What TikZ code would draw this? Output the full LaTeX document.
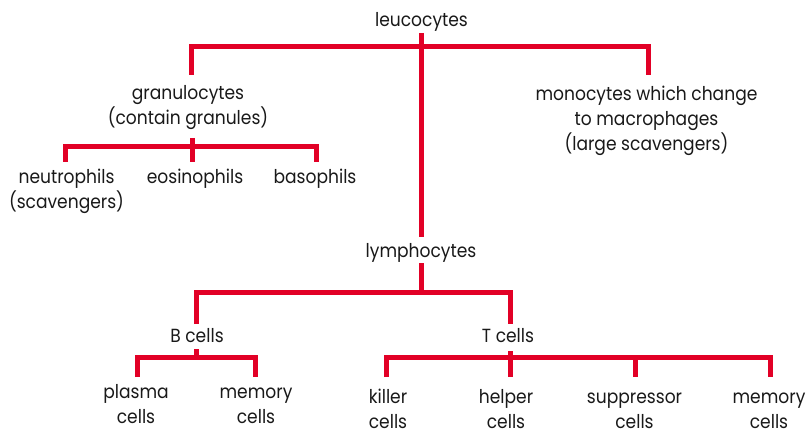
\documentclass[tikz,border=0pt]{standalone}
\usepackage{fontspec}
\newfontfamily\lbf[FakeStretch=0.9]{Poppins}
\definecolor{cred}{RGB}{226,0,38}
\begin{document}
\begin{tikzpicture}[x=1pt,y=-1pt,
  bar/.style={draw=cred,line width=5pt},
  lbl/.style={font=\lbf\fontsize{19}{25}\selectfont,align=center,inner sep=0pt,anchor=base,text=black!90}]
\useasboundingbox (0,0) rectangle (806,433);
% labels (anchor = baseline of the last line)
\node[lbl] (leu) at (421.5,27) {leucocytes};
\node[lbl] (gran) at (188,125) {granulocytes\\(contain granules)};
\node[lbl] (mono) at (646.5,150) {monocytes which change\\to macrophages\\(large scavengers)};
\node[lbl] (neut) at (66.5,208) {neutrophils\\(scavengers)};
\node[lbl] (eos) at (195,183) {eosinophils};
\node[lbl] (baso) at (315,183) {basophils};
\node[lbl] (lym) at (421,257) {lymphocytes};
\node[lbl] (bc) at (197,342) {B cells};
\node[lbl] (tc) at (508,342) {T cells};
\node[lbl] (plas) at (136,423) {plasma\\cells};
\node[lbl] (bmem) at (256,423) {memory\\cells};
\node[lbl] (kill) at (388,428) {killer\\cells};
\node[lbl] (help) at (506,428) {helper\\cells};
\node[lbl] (supp) at (634.5,428) {suppressor\\cells};
\node[lbl] (tmem) at (769,428) {memory\\cells};
% connector end points
\coordinate (leuB) at (421.5,33);
\coordinate (lymT) at (421.5,237);
\coordinate (leuJ) at (421.5,47);
\coordinate (granT) at (191,75);
\coordinate (monoT) at (648,75);
\coordinate (granB) at (192.5,138);
\coordinate (granJ) at (192.5,146.5);
\coordinate (neutT) at (65.5,162);
\coordinate (eosT) at (192.5,162);
\coordinate (basoT) at (316,162);
\coordinate (lymB) at (421.5,263);
\coordinate (lymJ) at (421.5,292.5);
\coordinate (bcT) at (196,324);
\coordinate (tcT) at (510.5,324);
\coordinate (bcB) at (196.5,349);
\coordinate (bcJ) at (196.5,357.5);
\coordinate (plasT) at (137.5,377);
\coordinate (bmemT) at (255,377);
\coordinate (tcB) at (510.5,351);
\coordinate (killT) at (386,377);
\coordinate (helpT) at (510.5,377);
\coordinate (suppT) at (635.5,377);
\coordinate (tmemT) at (770,377);
% connectors
\draw[bar] (leuB) -- (lymT);
\draw[bar] (granT) |- (leuJ) -| (monoT);
\draw[bar] (granB) -- (eosT);
\draw[bar] (neutT) |- (granJ) -| (basoT);
\draw[bar] (lymB) -- (lymJ);
\draw[bar] (bcT) |- (lymJ) -| (tcT);
\draw[bar] (bcB) -- (bcJ);
\draw[bar] (plasT) |- (bcJ) -| (bmemT);
\draw[bar] (tcB) -- (helpT);
\draw[bar] (killT) |- (helpT |- bcJ) -| (tmemT);
\draw[bar] (suppT |- bcJ) -- (suppT);
\end{tikzpicture}
\end{document}
